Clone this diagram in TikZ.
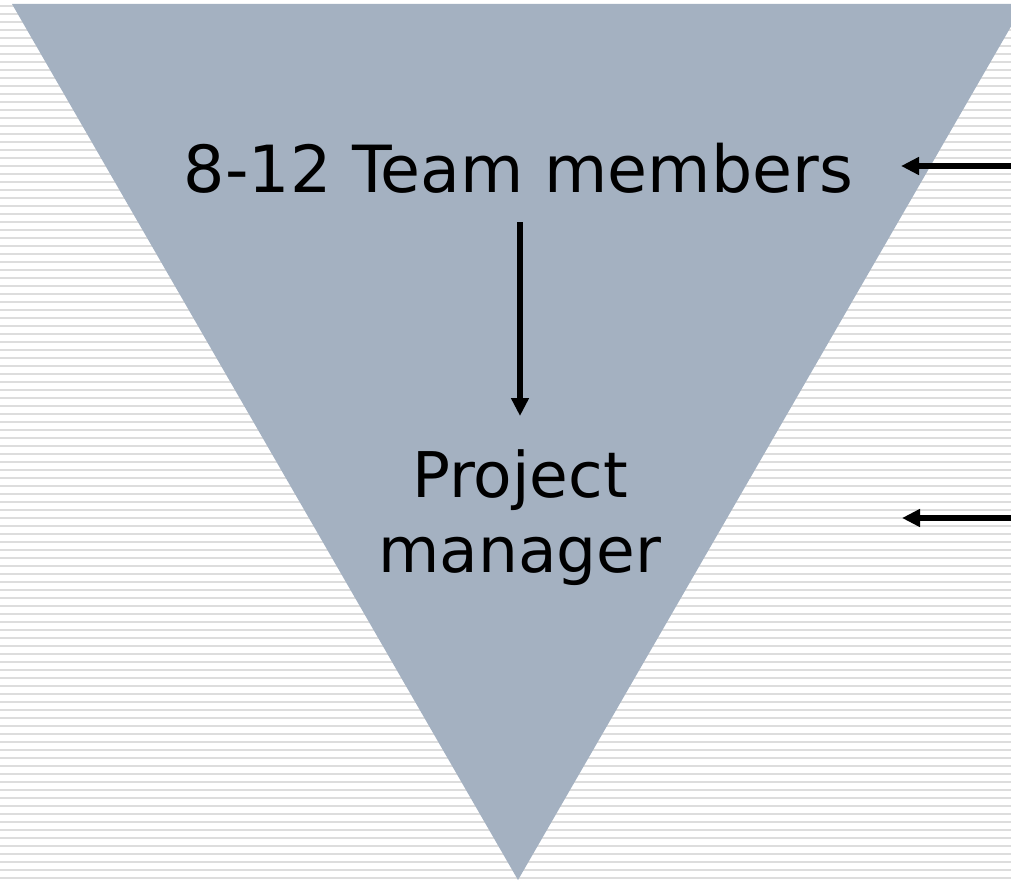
\documentclass[tikz,border=0pt]{standalone}
\usepackage{fontspec}
\setmainfont{DejaVu Sans}
\usetikzlibrary{arrows.meta}
\definecolor{tri}{RGB}{164,177,193}
\definecolor{stripe}{RGB}{221,221,221}
\begin{document}
\begin{tikzpicture}[x=1pt,y=-1pt,
  arr/.style={line width=5.5pt,-{Triangle[length=18pt,width=17pt]}},
  lbl/.style={inner sep=0pt, text=black}]
\useasboundingbox (0,0) rectangle (1011,880);
\clip (0,0) rectangle (1011,880);
\fill[white] (0,0) rectangle (1011,880);
\foreach \i in {0,...,109} \fill[stripe] (0,{4.8+8*\i}) rectangle (1011,{6.6+8*\i});
\fill[tri] (12,4) -- (1024,4) -- (518,880) -- cycle;
\node[lbl, anchor=base, font=\fontsize{65}{78}\selectfont] (team) at (518.5,192) {8-12 Team members};
\node[lbl, anchor=base, align=center, font=\fontsize{63}{75}\selectfont] (pm) at (520,572) {Project\\manager};
\coordinate (s1) at (1015,166);
\coordinate (t1) at (901,166);
\coordinate (s2) at (1015,518);
\coordinate (t2) at (902,518);
\draw[arr] (s1) -- (t1);
\draw[arr] (s2) -- (t2);
\draw[arr] ([shift={(1.5,30)}]team.base) -- ([shift={(0,-156)}]pm.base);
\end{tikzpicture}
\end{document}
